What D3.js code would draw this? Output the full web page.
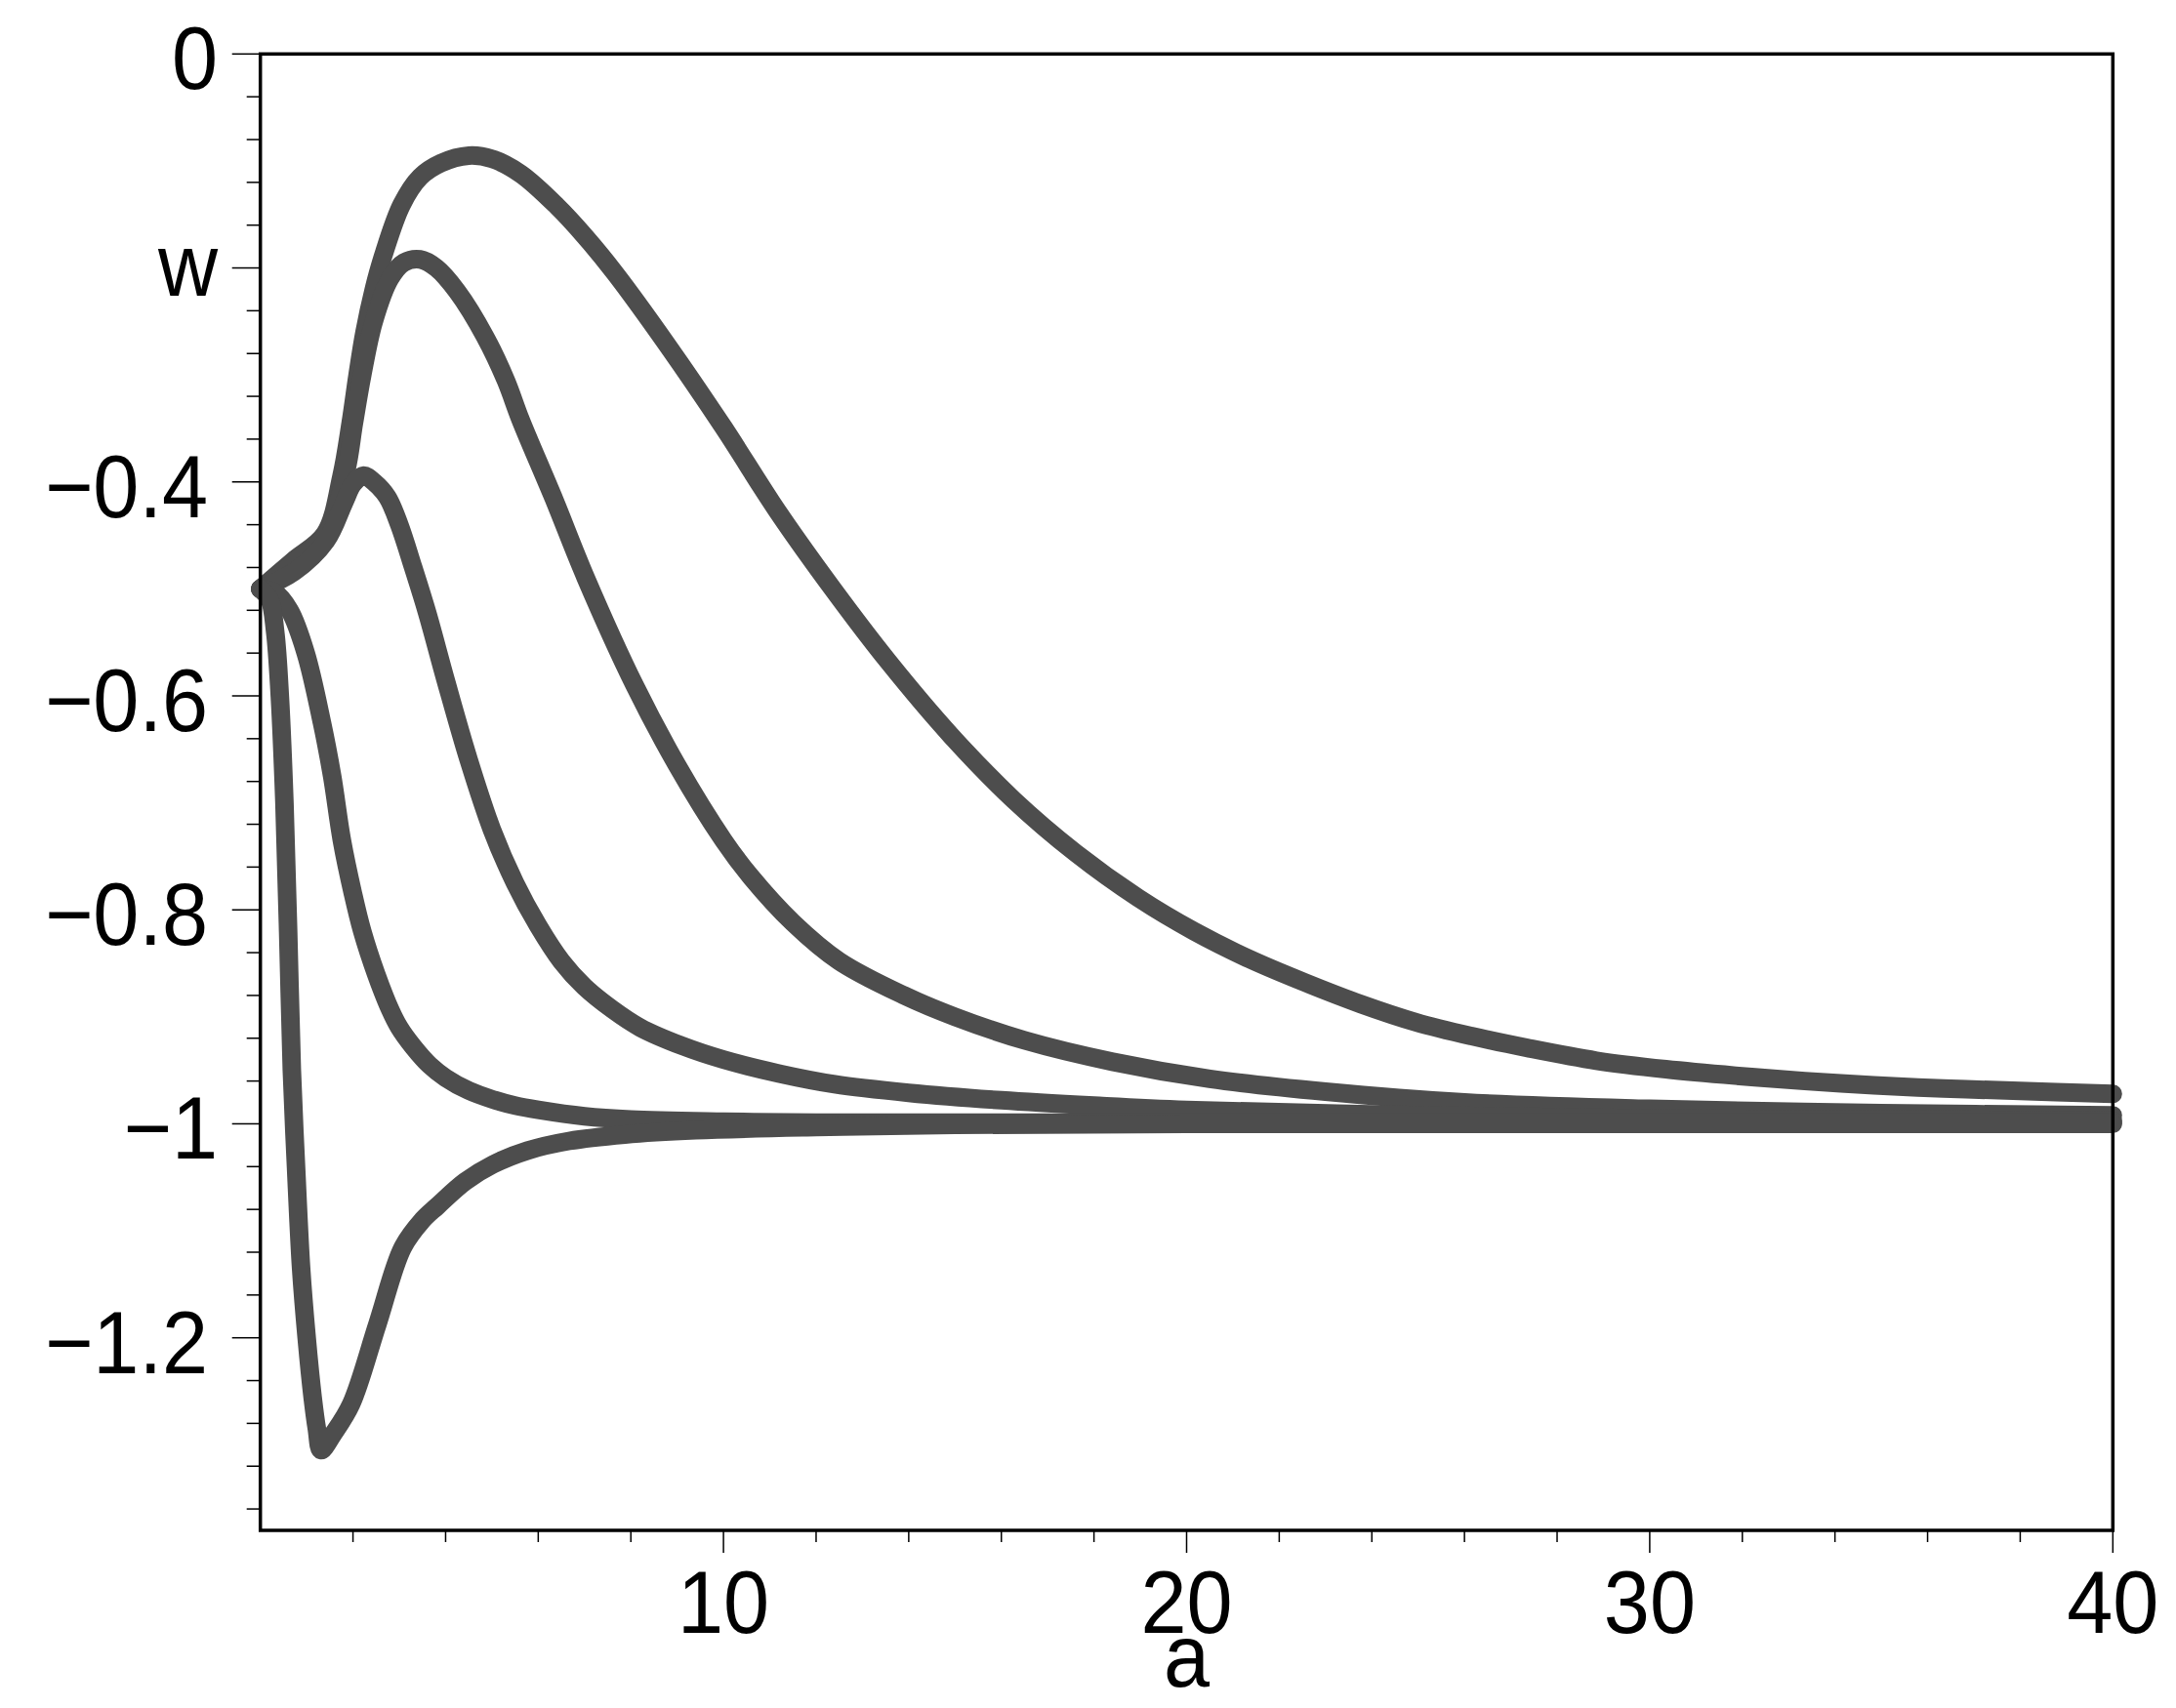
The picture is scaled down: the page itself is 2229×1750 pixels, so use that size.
<!DOCTYPE html>
<html>
<head>
<meta charset="utf-8">
<script src="https://cdn.jsdelivr.net/npm/d3@7"></script>
<style>
  html, body { margin: 0; padding: 0; background: #ffffff; }
  svg { display: block; }
  text { font-family: "Liberation Sans", Arial, Helvetica, sans-serif; fill: #000; }
</style>
</head>
<body>
<svg id="chart" width="2229" height="1750"></svg>
<script>
// ---- data ----
const xMajorTicks = [10, 20, 30, 40];
const xMinorTicks = [2, 4, 6, 8, 12, 14, 16, 18, 22, 24, 26, 28, 32, 34, 36, 38];
const yMajorTicks = [0, -0.2, -0.4, -0.6, -0.8, -1, -1.2];
const yTickLabels = ["0", "w", "\u22120.4", "\u22120.6", "\u22120.8", "\u22121", "\u22121.2"];
const xTickLabels = ["10", "20", "30", "40"];
const xTitle = "a";

const curveA_a = [0, 0.7, 1.4, 1.75, 1.95, 2.1, 2.25, 2.45, 2.65, 3.05, 3.45, 3.9, 4.5, 5.0, 5.62, 6.4, 7.0, 7.66, 8.77, 10, 11.16, 12.36, 13.56, 14.91, 16.26, 17.61, 18.96, 20.16, 21.36, 22.56, 23.76, 24.95, 26.15, 27.35, 28.85, 30.35, 31.85, 33.35, 34.84, 36.34, 37.84, 40];
const curveA_w = [-0.5, -0.474, -0.448, -0.395, -0.345, -0.3, -0.26, -0.22, -0.189, -0.141, -0.115, -0.102, -0.095, -0.098, -0.112, -0.142, -0.17, -0.205, -0.271, -0.349, -0.427, -0.5, -0.568, -0.637, -0.697, -0.747, -0.789, -0.82, -0.846, -0.868, -0.888, -0.905, -0.918, -0.929, -0.941, -0.949, -0.955, -0.96, -0.964, -0.967, -0.969, -0.972];

const curveB_a = [0, 0.7, 1.4, 1.85, 2.02, 2.2, 2.45, 2.8, 3.1, 3.45, 3.8, 4.25, 4.85, 5.3, 5.62, 6.33, 7.03, 8.08, 9.0, 10, 10.57, 11.5, 12.5, 13.9, 15, 16.5, 18.4, 20.5, 23, 26, 30, 35, 40];
const curveB_w = [-0.5, -0.476, -0.45, -0.39, -0.345, -0.3, -0.25, -0.21, -0.195, -0.192, -0.2, -0.222, -0.264, -0.305, -0.342, -0.415, -0.49, -0.59, -0.665, -0.735, -0.768, -0.812, -0.848, -0.88, -0.9, -0.922, -0.942, -0.958, -0.97, -0.98, -0.986, -0.99, -0.992];

const curveC_a = [0, 0.73, 1.42, 1.81, 2.0, 2.23, 2.45, 2.74, 3.0, 3.3, 3.6, 4.0, 4.5, 5.0, 5.5, 6.0, 6.5, 7.0, 7.6, 8.2, 9.1, 10, 11.2, 12.4, 14, 16, 18, 20, 25, 30, 35, 40];
const curveC_w = [-0.5, -0.484, -0.455, -0.419, -0.402, -0.394, -0.4, -0.414, -0.44, -0.48, -0.522, -0.585, -0.66, -0.725, -0.775, -0.815, -0.848, -0.872, -0.893, -0.91, -0.927, -0.94, -0.953, -0.963, -0.971, -0.978, -0.983, -0.987, -0.992, -0.995, -0.996, -0.997];

const curveD_a = [0, 0.3, 0.63, 0.98, 1.33, 1.55, 1.76, 2.0, 2.2, 2.5, 2.8, 3.0, 3.3, 3.65, 4.0, 4.5, 5.0, 5.5, 6.0, 7.0, 8.0, 10, 12, 15, 20, 30, 40];
const curveD_w = [-0.5, -0.503, -0.52, -0.56, -0.625, -0.675, -0.735, -0.785, -0.82, -0.86, -0.893, -0.91, -0.928, -0.945, -0.957, -0.969, -0.977, -0.983, -0.987, -0.993, -0.996, -0.998, -0.999, -0.999, -0.999, -0.999, -0.999];

const curveE_a = [0, 0.2, 0.32, 0.42, 0.52, 0.6, 0.68, 0.77, 0.88, 1.0, 1.13, 1.22, 1.31, 1.57, 1.96, 2.53, 3.07, 3.5, 3.82, 4.42, 5.02, 5.77, 6.67, 7.87, 9.4, 12, 15, 20, 30, 40];
const curveE_w = [-0.5, -0.51, -0.54, -0.6, -0.7, -0.82, -0.95, -1.04, -1.135, -1.2, -1.256, -1.285, -1.305, -1.29, -1.262, -1.187, -1.116, -1.09, -1.077, -1.054, -1.038, -1.025, -1.016, -1.01, -1.006, -1.003, -1.001, -1.0, -1.0, -1.0];

const series = [
  [curveA_a, curveA_w],
  [curveB_a, curveB_w],
  [curveC_a, curveC_w],
  [curveD_a, curveD_w],
  [curveE_a, curveE_w]
];

// ---- layout ----
const plotL = 266.7, plotR = 2164.3, plotT = 55.3, plotB = 1568;
const x = d3.scaleLinear().domain([0, 40]).range([plotL, plotR]);
const y = d3.scaleLinear().domain([-1.38, 0]).range([plotB, plotT]);
const FS = 91, SX = 0.93;

const svg = d3.select("#chart");
svg.append("rect").attr("width", 2229).attr("height", 1750).attr("fill", "#fff");

// curves
const line = d3.line()
  .x(d => x(d[0]))
  .y(d => y(d[1]))
  .curve(d3.curveCatmullRom.alpha(0.5));

const gCurves = svg.append("g");
series.forEach(([as, ws]) => {
  const pts = as.map((a, i) => [a, ws[i]]);
  gCurves.append("path")
    .attr("d", line(pts))
    .attr("fill", "none")
    .attr("stroke", "#4d4d4d")
    .attr("stroke-width", 19)
    .attr("stroke-linecap", "round")
    .attr("stroke-linejoin", "round");
});

// frame
svg.append("rect")
  .attr("x", plotL).attr("y", plotT)
  .attr("width", plotR - plotL).attr("height", plotB - plotT)
  .attr("fill", "none").attr("stroke", "#000").attr("stroke-width", 3.5);

// y-axis ticks
const yMinor = d3.range(1, 35).map(i => -i * 0.04).filter(v => Math.abs(v / 0.2 - Math.round(v / 0.2)) > 1e-6);
const gy = svg.append("g");
gy.selectAll("line.ymaj").data(yMajorTicks).join("line")
  .attr("class", "ymaj")
  .attr("x1", plotL - 29).attr("x2", plotL)
  .attr("y1", d => y(d)).attr("y2", d => y(d))
  .attr("stroke", "#000").attr("stroke-width", 1.5);
gy.selectAll("line.ymin").data(yMinor).join("line")
  .attr("class", "ymin")
  .attr("x1", plotL - 14).attr("x2", plotL)
  .attr("y1", d => y(d)).attr("y2", d => y(d))
  .attr("stroke", "#000").attr("stroke-width", 1.5);
gy.selectAll("text").data(yMajorTicks).join("text")
  .attr("transform", (d, i) => {
    const tx = yTickLabels[i].includes(".") ? 213 : 223;
    const ty = y(d) + (yTickLabels[i] === "w" ? 28 : 36);
    return `translate(${tx},${ty}) scale(${SX},1)`;
  })
  .attr("text-anchor", "end")
  .attr("font-size", FS)
  .text((d, i) => yTickLabels[i]);

// x-axis ticks
const gx = svg.append("g");
gx.selectAll("line.xmaj").data(xMajorTicks).join("line")
  .attr("class", "xmaj")
  .attr("x1", d => x(d)).attr("x2", d => x(d))
  .attr("y1", plotB).attr("y2", plotB + 23)
  .attr("stroke", "#000").attr("stroke-width", 1.5);
gx.selectAll("line.xmin").data(xMinorTicks).join("line")
  .attr("class", "xmin")
  .attr("x1", d => x(d)).attr("x2", d => x(d))
  .attr("y1", plotB).attr("y2", plotB + 12)
  .attr("stroke", "#000").attr("stroke-width", 1.5);
gx.selectAll("text").data(xMajorTicks).join("text")
  .attr("transform", d => `translate(${x(d)},1673) scale(${SX},1)`)
  .attr("text-anchor", "middle")
  .attr("font-size", FS)
  .text((d, i) => xTickLabels[i]);

svg.append("text")
  .attr("transform", `translate(${x(20)},1728) scale(${SX},1)`)
  .attr("text-anchor", "middle")
  .attr("font-size", FS)
  .text(xTitle);
</script>
</body>
</html>
